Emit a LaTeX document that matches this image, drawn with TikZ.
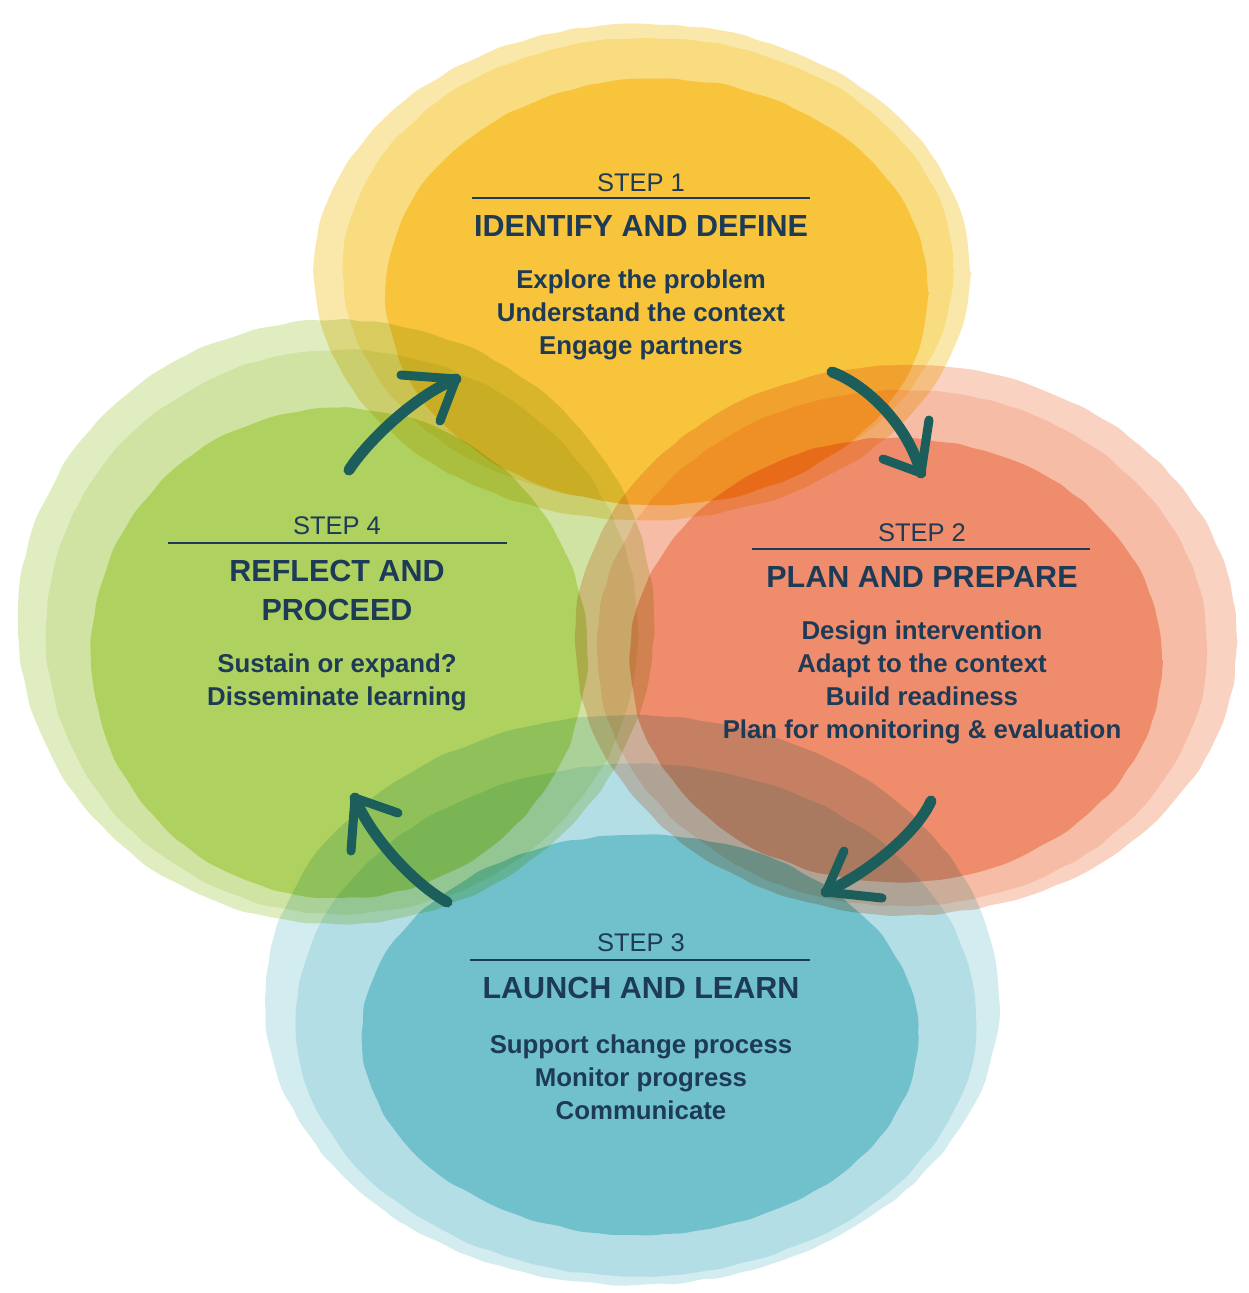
\documentclass[tikz,border=0pt]{standalone}
\usepackage{fontspec}
\setmainfont{Liberation Sans}
\usetikzlibrary{decorations.pathmorphing}
\definecolor{ink}{HTML}{1D3A57}
\definecolor{brushc}{HTML}{1B5E5B}
\definecolor{yelA}{HTML}{FAE59D}
\definecolor{yelB}{HTML}{F8D66A}
\definecolor{yelC}{HTML}{F6BA1A}
\definecolor{orgA}{HTML}{F9CBB7}
\definecolor{orgB}{HTML}{F6B196}
\definecolor{orgC}{HTML}{ED7852}
\definecolor{teaA}{HTML}{CBE9ED}
\definecolor{teaB}{HTML}{A8D9E2}
\definecolor{teaC}{HTML}{59B7C4}
\definecolor{grnA}{HTML}{DBEAB5}
\definecolor{grnB}{HTML}{C8DF93}
\definecolor{grnC}{HTML}{A0C943}
\begin{document}
\begin{tikzpicture}[x=1pt,y=-1pt,
  blob/.style={transparency group, blend mode=multiply, opacity=0.85},
  wash/.style={fill=#1, decorate,
    decoration={random steps, segment length=14pt, amplitude=1.2pt}, rounded corners=6pt},
  steplbl/.style={text=ink, inner sep=0pt, font=\fontsize{25.5}{30}\selectfont},
  headlbl/.style={text=ink, inner sep=0pt, align=center, font=\bfseries\fontsize{30.5}{39}\selectfont},
  bodylbl/.style={text=ink, inner sep=0pt, align=center, font=\bfseries\fontsize{25.8}{33}\selectfont},
  rulel/.style={draw=ink, line width=2.8pt},
  brush/.style={draw=brushc, line width=11pt, line cap=round},
  barb/.style={draw=brushc, line width=9pt, line cap=round}]
\useasboundingbox (0,0) rectangle (1248,1293);
\fill[white] (0,0) rectangle (1248,1293);
\pgfmathsetseed{7}
% ---- green (step 4)
\begin{scope}[blob]
\fill[wash=grnA] (336,622) ellipse [x radius=318pt, y radius=302pt];
\fill[wash=grnB] (342,632) ellipse [x radius=296pt, y radius=282pt];
\fill[wash=grnC] (339,653) ellipse [x radius=248pt, y radius=245pt];
\end{scope}
% ---- yellow (step 1)
\begin{scope}[blob]
\fill[wash=yelA] (642,272) ellipse [x radius=328pt, y radius=248pt];
\fill[wash=yelB] (648,270) ellipse [x radius=305pt, y radius=232pt];
\fill[wash=yelC] (657,292) ellipse [x radius=271pt, y radius=213pt];
\end{scope}
% ---- orange (step 2)
\begin{scope}[blob]
\fill[wash=orgA] (906,640) ellipse [x radius=331pt, y radius=275pt];
\fill[wash=orgB] (902,648) ellipse [x radius=305pt, y radius=258pt];
\fill[wash=orgC] (896,660) ellipse [x radius=266pt, y radius=222pt];
\end{scope}
% ---- teal (step 3)
\begin{scope}[blob]
\fill[wash=teaA] (632,1000) ellipse [x radius=367pt, y radius=285pt];
\fill[wash=teaB] (636,1020) ellipse [x radius=340pt, y radius=256pt];
\fill[wash=teaC] (640,1035) ellipse [x radius=278pt, y radius=200pt];
\end{scope}

% ---- texts
\node[steplbl] (s1) at (641,183) {STEP 1};
\draw[rulel] (472,198) -- (810,198);
\node[headlbl] (h1) at (641,226) {IDENTIFY AND DEFINE};
\node[bodylbl] (b1) at (641,315) {Explore the problem\\Understand the context\\Engage partners};

\node[steplbl] (s2) at (922,533) {STEP 2};
\draw[rulel] (752,549) -- (1090,549);
\node[headlbl] (h2) at (922,577) {PLAN AND PREPARE};
\node[bodylbl] (b2) at (922,682) {Design intervention\\Adapt to the context\\Build readiness\\Plan for monitoring \& evaluation};

\node[steplbl] (s3) at (641,943) {STEP 3};
\draw[rulel] (470,960) -- (810,960);
\node[headlbl] (h3) at (641,988) {LAUNCH AND LEARN};
\node[bodylbl] (b3) at (641,1077) {Support change process\\Monitor progress\\Communicate};

\node[steplbl] (s4) at (337,526) {STEP 4};
\draw[rulel] (168,543) -- (507,543);
\node[headlbl] (h4) at (337,590) {REFLECT AND\\PROCEED};
\node[bodylbl] (b4) at (337,682) {Sustain or expand?\\Disseminate learning};

% ---- brush arrows
\coordinate (a1s) at (349,470); \coordinate (a1t) at (456,379);
\coordinate (a1l) at (401,375); \coordinate (a1r) at (440,421);
\coordinate (a2s) at (832,372); \coordinate (a2t) at (921,473);
\coordinate (a2l) at (929,420); \coordinate (a2r) at (883,459);
\coordinate (a3s) at (931,801); \coordinate (a3t) at (826,892);
\coordinate (a3l) at (844,851); \coordinate (a3r) at (882,898);
\coordinate (a4s) at (447,902); \coordinate (a4t) at (355,798);
\coordinate (a4l) at (398,813); \coordinate (a4r) at (351,851);

\draw[brush] (a1s) .. controls (366,443) and (414,396) .. (a1t);
\draw[barb] (a1t) -- (a1l); \draw[barb] (a1t) -- (a1r);
\draw[brush] (a2s) .. controls (862,383) and (906,420) .. (a2t);
\draw[barb] (a2t) -- (a2l); \draw[barb] (a2t) -- (a2r);
\draw[brush] (a3s) .. controls (918,831) and (870,872) .. (a3t);
\draw[barb] (a3t) -- (a3l); \draw[barb] (a3t) -- (a3r);
\draw[brush] (a4s) .. controls (414,884) and (370,836) .. (a4t);
\draw[barb] (a4t) -- (a4l); \draw[barb] (a4t) -- (a4r);
\end{tikzpicture}
\end{document}
